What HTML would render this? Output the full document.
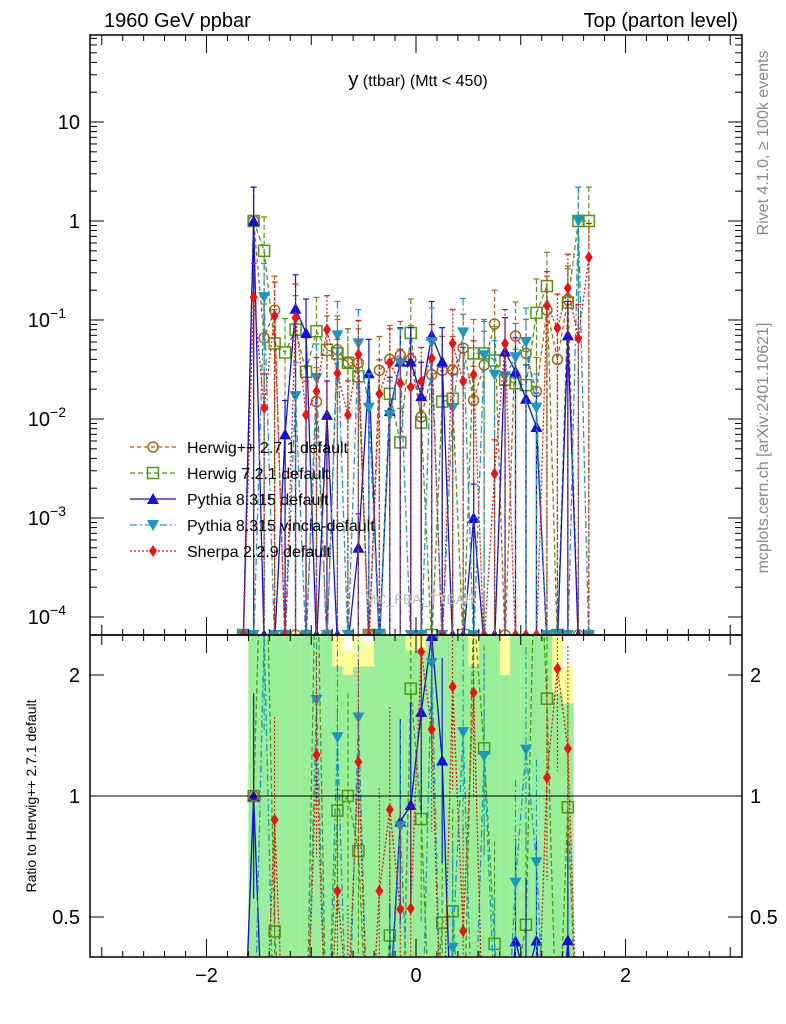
<!DOCTYPE html>
<html><head><meta charset="utf-8"><style>
html,body{margin:0;padding:0;background:#fff;overflow:hidden;width:786px;height:1024px;}
svg{display:block;font-family:"Liberation Sans",sans-serif;}
</style></head><body>
<svg id="chart" width="786" height="1024" viewBox="0 0 786 1024" xmlns="http://www.w3.org/2000/svg">
<defs>
<clipPath id="cm"><rect x="90" y="35" width="652" height="600"/></clipPath>
<clipPath id="cr"><rect x="90" y="635" width="652" height="322"/></clipPath>
</defs>
<g id="bands" clip-path="url(#cr)"></g>
<g id="main" clip-path="url(#cm)"></g>
<g id="ratio" clip-path="url(#cr)"></g>
<g id="axes"></g>
<text x="104" y="27" font-size="20">1960 GeV ppbar</text>
<text x="738" y="27" font-size="20" text-anchor="end">Top (parton level)</text>
<text x="418" y="86" text-anchor="middle"><tspan font-size="20">y</tspan><tspan font-size="16"> (ttbar) (Mtt &lt; 450)</tspan></text>
<text x="420" y="604" font-size="14" fill="#bbb" text-anchor="middle">MC_FBA_TTBAR</text>
<text transform="translate(768,143) rotate(-90)" font-size="16" fill="#888" text-anchor="middle">Rivet 4.1.0, ≥ 100k events</text>
<text transform="translate(768,448) rotate(-90)" font-size="16" fill="#888" text-anchor="middle">mcplots.cern.ch [arXiv:2401.10621]</text>
<text transform="translate(36,796) rotate(-90)" font-size="14" text-anchor="middle">Ratio to Herwig++ 2.7.1 default</text>
<g id="legend"></g>
</svg>
<script>
const centers = [-1.65,-1.55,-1.45,-1.35,-1.25,-1.15,-1.05,-0.95,-0.85,-0.75,-0.65,-0.55,-0.45,-0.35,-0.25,-0.15,-0.05,0.05,0.15,0.25,0.35,0.45,0.55,0.65,0.75,0.85,0.95,1.05,1.15,1.25,1.35,1.45,1.55,1.65];
const herwigpp = [0,1.0,0.066,0.126,0,0,0,0.015,0,0.05,0.037,0.037,0,0.031,0.04,0.044,0.04,0.0105,0.028,0.031,0.031,0.052,0.0155,0.035,0.091,0,0.069,0.046,0.019,0.126,0.04,0.16,0,0];
const herwig7 = [0,1.0,0.5,0.058,0.047,0.08,0.03,0.077,0.05,0.046,0.037,0.027,0,0,0.018,0.0058,0.074,0.0092,0,0.015,0.016,0,0.046,0.046,0.039,0.025,0.023,0.022,0.118,0.22,0,0.15,1.0,1.0];
const pythia = [0,1.0,0,0,0.007,0.13,0.074,0,0.011,0,0,0.0005,0.029,0,0.012,0.038,0.038,0.017,0.07,0.038,0,0,0.001,0,0,0.048,0.03,0.016,0.0083,0,0,0.07,0,0];
const vincia = [0,0,0.17,0,0,0.017,0,0.026,0,0.07,0,0.058,0.013,0,0.011,0.037,0,0,0.06,0,0.013,0.075,0,0.044,0.028,0.027,0.042,0.06,0.013,0,0,0,1.0,0];
const sherpa = [0,0.17,0.013,0.11,0,0.105,0.011,0.019,0.08,0.029,0.011,0.045,0,0.018,0.037,0.023,0.021,0.024,0.041,0,0.058,0.024,0.028,0,0.0028,0.058,0,0,0,0.14,0.083,0.21,0.065,0.43];
const bandGreenLo = [0.4,0.4,0.4,0.4,0.4,0.4,0.4,0.4,0.4,0.4,0.4,0.4,0.4,0.4,0.4,0.4,0.4,0.4,0.4,0.4,0.4,0.4,0.4,0.4,0.4,0.4,0.4,0.4,0.4,0.4,0.4,0.4,0.4,0.4];
const bandGreenHi = [0,2.5,2.5,2.5,2.5,2.5,2.5,2.5,2.5,2.1,2.0,2.1,2.1,2.5,2.5,2.5,2.3,2.3,2.5,2.5,2.5,2.5,2.1,2.5,2.5,2.0,2.5,2.5,2.5,2.5,1.8,1.7,0,0];
const bandYellowHi = [0,2.5,2.5,2.5,2.5,2.5,2.5,2.5,2.5,2.5,2.3,2.5,2.4,2.5,2.5,2.5,2.5,2.5,2.5,2.5,2.5,2.5,2.5,2.5,2.5,2.5,2.5,2.5,2.5,2.5,2.5,2.1,0,0];
const yTickVals = [10,1,0.1,0.01,0.001,0.0001];
const yTickLabels = [["10",""],["1",""],["10","−1"],["10","−2"],["10","−3"],["10","−4"]];
const rTickVals = [2,1,0.5];
const rTickLabels = ["2","1","0.5"];
const xTickVals = [-2,0,2];
const xTickLabels = ["−2","0","2"];

const NS="http://www.w3.org/2000/svg";
const X = v => 416 + 104.75*v;
const Y = v => v>0 ? 221 - 99*Math.log10(v) : 645;
const R = r => 796 - 121*Math.log2(r);
function mk(parent, tag, attrs){const e=document.createElementNS(NS,tag);for(const k in attrs)e.setAttribute(k,attrs[k]);parent.appendChild(e);return e;}
const gMain=document.getElementById('main'), gRatio=document.getElementById('ratio'), gBands=document.getElementById('bands'), gAxes=document.getElementById('axes'), gLeg=document.getElementById('legend');

centers.forEach((c,i)=>{
  if(!bandGreenHi[i]) return;
  const x0=X(c-0.05), w=X(c+0.05)-x0;
  const y=mk(gBands,'rect',{x:x0,y:R(bandYellowHi[i]),width:w+0.5,height:R(0.3)-R(bandYellowHi[i]),fill:'#ffff99'});
  
  
  const g=mk(gBands,'rect',{x:x0,y:R(bandGreenHi[i]),width:w+0.5,height:R(bandGreenLo[i])-R(bandGreenHi[i]),fill:'#99ee99'});
  
  
});

const series=[
 {name:'herwigpp',label:'Herwig++ 2.7.1 default',vals:herwigpp,color:'#b35f10',dash:'4,3',marker:'circle',fill:'none'},
 {name:'herwig7',label:'Herwig 7.2.1 default',vals:herwig7,color:'#4c9a0c',dash:'5,3',marker:'square',fill:'none'},
 {name:'pythia',label:'Pythia 8.315 default',vals:pythia,color:'#1010e0',dash:'',marker:'tri',fill:'#1010e0'},
 {name:'vincia',label:'Pythia 8.315 vincia-default',vals:vincia,color:'#1799c4',dash:'7,3,2,3',marker:'dtri',fill:'#1799c4'},
 {name:'sherpa',label:'Sherpa 2.2.9 default',vals:sherpa,color:'#ee1111',dash:'2,2',marker:'diamond',fill:'#ee1111'}
];
function marker(parent,s,x,y){
  let e;
  if(s.marker==='circle') e=mk(parent,'circle',{cx:x,cy:y,r:5,fill:'none',stroke:s.color,'stroke-width':1.5});
  else if(s.marker==='square') e=mk(parent,'rect',{x:x-5.5,y:y-5.5,width:11,height:11,fill:'none',stroke:s.color,'stroke-width':1.5});
  else if(s.marker==='tri') e=mk(parent,'polygon',{points:`${x},${y-6} ${x-6},${y+5} ${x+6},${y+5}`,fill:s.fill});
  else if(s.marker==='dtri') e=mk(parent,'polygon',{points:`${x},${y+6} ${x-6},${y-5} ${x+6},${y-5}`,fill:s.fill});
  else e=mk(parent,'polygon',{points:`${x},${y-6} ${x-4},${y} ${x},${y+6} ${x+4},${y}`,fill:s.fill});
  return e;
}
series.forEach(s=>{
  const pts=centers.map((c,i)=>`${X(c)},${Y(s.vals[i])}`).join(' ');
  const l=mk(gMain,'polyline',{points:pts,fill:'none',stroke:s.color,'stroke-width':1.3,'stroke-dasharray':s.dash});
  
  
  centers.forEach((c,i)=>{
    const v=s.vals[i], x=X(c);
    if(v>0){
      const eb=mk(gMain,'line',{x1:x,x2:x,y1:Y(v*2.2),y2:640,stroke:s.color,'stroke-width':1.2,'stroke-dasharray':s.dash});
      
      
      mk(gMain,'line',{x1:x-3,x2:x+3,y1:Y(v*2.2),y2:Y(v*2.2),stroke:s.color,'stroke-width':1.2});
    }
    const m=marker(gMain,s,x,Y(v)>635?635:Y(v));
    
    
  });
  if(s.name==='herwigpp') return;
  const rp=centers.map((c,i)=>{const r=herwigpp[i]>0&&s.vals[i]>0?s.vals[i]/herwigpp[i]:0.2;return `${X(c)},${R(r)}`;}).join(' ');
  const rl=mk(gRatio,'polyline',{points:rp,fill:'none',stroke:s.color,'stroke-width':1.3,'stroke-dasharray':s.dash});
  
  
  centers.forEach((c,i)=>{
    if(!(herwigpp[i]>0&&s.vals[i]>0)) return;
    const r=s.vals[i]/herwigpp[i], x=X(c);
    mk(gRatio,'line',{x1:x,x2:x,y1:R(r*1.8),y2:R(r/1.8),stroke:s.color,'stroke-width':1.1,'stroke-dasharray':s.dash});
    const m=marker(gRatio,s,x,R(r));
    
    
  });
});
mk(gRatio,'line',{x1:90,x2:742,y1:R(1),y2:R(1),stroke:'#000','stroke-width':1});
const refMark=marker(gRatio,series[0],X(centers[1]),R(1));



series.forEach((s,k)=>{
  const y=447+26*k;
  const g=mk(gLeg,'g',{});
  
  
  mk(g,'line',{x1:130,x2:176,y1:y,y2:y,stroke:s.color,'stroke-width':1.3,'stroke-dasharray':s.dash});
  marker(g,s,153,y);
  const t=mk(g,'text',{x:187,y:y+6,'font-size':16});
  t.textContent=s.label;
});

mk(gAxes,'rect',{x:90,y:35,width:652,height:600,fill:'none',stroke:'#000','stroke-width':1.5});
mk(gAxes,'rect',{x:90,y:635,width:652,height:322,fill:'none',stroke:'#000','stroke-width':1.5});
yTickVals.forEach((v,k)=>{
  const y=Y(v);
  mk(gAxes,'line',{x1:90,x2:104,y1:y,y2:y,stroke:'#000'});
  mk(gAxes,'line',{x1:728,x2:742,y1:y,y2:y,stroke:'#000'});
  for(let m=2;m<10;m++){const ym=Y(v*m);if(ym>35&&ym<635){mk(gAxes,'line',{x1:90,x2:97,y1:ym,y2:ym,stroke:'#000'});mk(gAxes,'line',{x1:735,x2:742,y1:ym,y2:ym,stroke:'#000'});}}
  const t=mk(gAxes,'text',{x:80,y:y+7,'font-size':20,'text-anchor':'end'});
  
  
  if(yTickLabels[k][1]){t.setAttribute('x',66);t.innerHTML=`${yTickLabels[k][0]}<tspan font-size="14" dy="-9">${yTickLabels[k][1]}</tspan>`;}
  else t.textContent=yTickLabels[k][0];
});
rTickVals.forEach((v,k)=>{
  const y=R(v);
  mk(gAxes,'line',{x1:90,x2:104,y1:y,y2:y,stroke:'#000'});
  mk(gAxes,'line',{x1:728,x2:742,y1:y,y2:y,stroke:'#000'});
  const t=mk(gAxes,'text',{x:80,y:y+7,'font-size':20,'text-anchor':'end'});t.textContent=rTickLabels[k];
  
  
  const t2=mk(gAxes,'text',{x:750,y:y+7,'font-size':20});t2.textContent=rTickLabels[k];
  
  
});
for(let v=-3;v<=3.01;v+=0.2){
  const x=X(v);const major=Math.abs(v-Math.round(v))<0.01;
  const h=major?(Math.abs(Math.round(v))%2===0?18:10):6;
  [[635,-1],[35,1],[957,-1]].forEach(([y0,d])=>mk(gAxes,'line',{x1:x,x2:x,y1:y0,y2:y0+d*h,stroke:'#000'}));
  mk(gAxes,'line',{x1:x,x2:x,y1:635,y2:635+h,stroke:'#000'});
}
xTickVals.forEach((v,k)=>{
  const t=mk(gAxes,'text',{x:X(v),y:982,'font-size':20,'text-anchor':'middle'});t.textContent=xTickLabels[k];
  
  
});
</script>
</body></html>
